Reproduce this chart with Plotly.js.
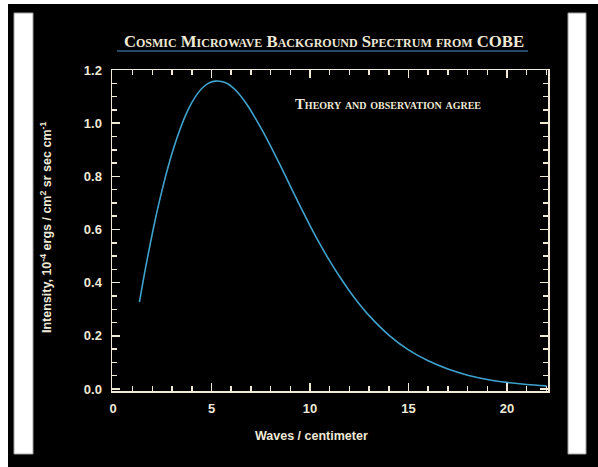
<!DOCTYPE html>
<html>
<head>
<meta charset="utf-8">
<script src="https://cdn.plot.ly/plotly-3.0.1.min.js"></script>
<style>
  html, body { margin: 0; padding: 0; background: #ffffff; }
  #chart { width: 598px; height: 467px; }
</style>
</head>
<body>
<div id="chart"></div>
<script>
// Data
const wavenumber = [1.34, 1.6, 1.9, 2.2, 2.5, 2.8, 3.1, 3.4, 3.7, 4.0, 4.3, 4.6, 4.9, 5.2, 5.5, 5.8, 6.1, 6.4, 6.8,
                    7.2, 7.6, 8.0, 8.5, 9.0, 9.5, 10.0, 10.5, 11.0, 11.5, 12.0, 12.5, 13.0, 14.0, 15.0, 16.0,
                    17.0, 18.0, 19.0, 20.0, 21.0, 22.0];
const intensity = [0.327, 0.435, 0.550, 0.656, 0.751, 0.836, 0.911, 0.976, 1.032, 1.077, 1.112, 1.137, 1.152, 1.158,
                   1.157, 1.149, 1.133, 1.11, 1.07, 1.022, 0.97, 0.914, 0.840, 0.763, 0.688, 0.615, 0.546, 0.482,
                   0.423, 0.369, 0.320, 0.276, 0.203, 0.147, 0.106, 0.075, 0.052, 0.036, 0.025, 0.017, 0.0116];
const xTickVals = [0, 5, 10, 15, 20];
const yTickVals = [0.0, 0.2, 0.4, 0.6, 0.8, 1.0, 1.2];
const yTickText = ['0.0', '0.2', '0.4', '0.6', '0.8', '1.0', '1.2'];
const chartTitle = 'Cosmic Microwave Background Spectrum from COBE';
const noteText = 'Theory and observation agree';
const xTitle = 'Waves / centimeter';
const yTitle = 'Intensity, 10<sup>-4</sup> ergs / cm<sup>2</sup> sr sec cm<sup>-1</sup>';

const cream = '#efe9d6';
const L = 112, R = 548, T = 70, B = 391, W = 598, H = 467;
const px = v => (v - L) / (R - L);
const py = v => (B - v) / (B - T);

const axisCommon = {
  showgrid: false, zeroline: false,
  showline: true, linecolor: cream, linewidth: 1.5,
  mirror: 'allticks',
  ticks: 'inside', ticklen: 8, tickwidth: 1.5, tickcolor: cream,
  tickfont: { family: 'Liberation Sans, Arial, sans-serif', size: 13, color: cream, weight: 'bold' },
  fixedrange: true
};

const layout = {
  width: W, height: H,
  paper_bgcolor: '#000000', plot_bgcolor: '#000000',
  margin: { l: L, r: W - R, t: T, b: H - B, pad: 0 },
  showlegend: false,
  xaxis: Object.assign({}, axisCommon, {
    range: [-0.05, 22.08],
    tickvals: xTickVals,
    ticktext: xTickVals.map(String),
    ticklabelstandoff: 5,
    minor: { dtick: 1, tick0: 0, ticks: 'inside', ticklen: 5, tickwidth: 1.5, tickcolor: cream }
  }),
  yaxis: Object.assign({}, axisCommon, {
    range: [-0.0075, 1.2],
    tickvals: yTickVals,
    ticktext: yTickText,
    ticklabelstandoff: 6,
    minor: { dtick: 0.05, tick0: 0, ticks: 'inside', ticklen: 5, tickwidth: 1.5, tickcolor: cream }
  }),
  title: {
    text: chartTitle,
    x: px(324), xanchor: 'center', xref: 'paper',
    y: 1 - 41 / H, yanchor: 'middle',
    font: { family: 'Liberation Serif, DejaVu Serif, serif', size: 16.7, color: cream, weight: 'bold', variant: 'small-caps' }
  },
  annotations: [
    {
      text: noteText, xref: 'paper', yref: 'paper', x: px(293), y: py(104),
      xanchor: 'left', yanchor: 'middle', showarrow: false,
      font: { family: 'Liberation Serif, DejaVu Serif, serif', size: 14.8, color: cream, weight: 'bold', variant: 'small-caps' }
    },
    {
      text: xTitle, xref: 'paper', yref: 'paper', x: px(311), y: py(436),
      xanchor: 'center', yanchor: 'middle', showarrow: false,
      font: { family: 'Liberation Sans, Arial, sans-serif', size: 12.5, color: cream, weight: 'bold' }
    },
    {
      text: yTitle, xref: 'paper', yref: 'paper', x: px(46), y: py(228),
      xanchor: 'center', yanchor: 'middle', showarrow: false, textangle: -90,
      font: { family: 'Liberation Sans, Arial, sans-serif', size: 12.5, color: cream, weight: 'bold' }
    }
  ],
  shapes: [
    // title underline
    { type: 'line', xref: 'paper', yref: 'paper', x0: px(117), x1: px(528), y0: py(51), y1: py(51),
      line: { color: '#2f5f86', width: 1.5 }, layer: 'above' },
    // white outer edges
    { type: 'rect', xref: 'paper', yref: 'paper', x0: px(0), x1: px(8), y0: py(0), y1: py(H),
      fillcolor: '#ffffff', line: { width: 0 }, layer: 'above' },
    { type: 'rect', xref: 'paper', yref: 'paper', x0: px(0), x1: px(W), y0: py(0), y1: py(4),
      fillcolor: '#ffffff', line: { width: 0 }, layer: 'above' },
    // white side bars
    { type: 'rect', xref: 'paper', yref: 'paper', x0: px(14), x1: px(33), y0: py(13), y1: py(454),
      fillcolor: '#ffffff', line: { color: '#a0a0a0', width: 1 }, layer: 'above' },
    { type: 'rect', xref: 'paper', yref: 'paper', x0: px(568), x1: px(586), y0: py(13), y1: py(454),
      fillcolor: '#ffffff', line: { color: '#a0a0a0', width: 1 }, layer: 'above' }
  ]
};

const trace = {
  x: wavenumber, y: intensity,
  type: 'scatter', mode: 'lines',
  line: { color: '#3fa2cc', width: 1.6, shape: 'spline', smoothing: 0.8 },
  hoverinfo: 'skip'
};

Plotly.newPlot('chart', [trace], layout, { displayModeBar: false, staticPlot: true });
</script>
</body>
</html>
